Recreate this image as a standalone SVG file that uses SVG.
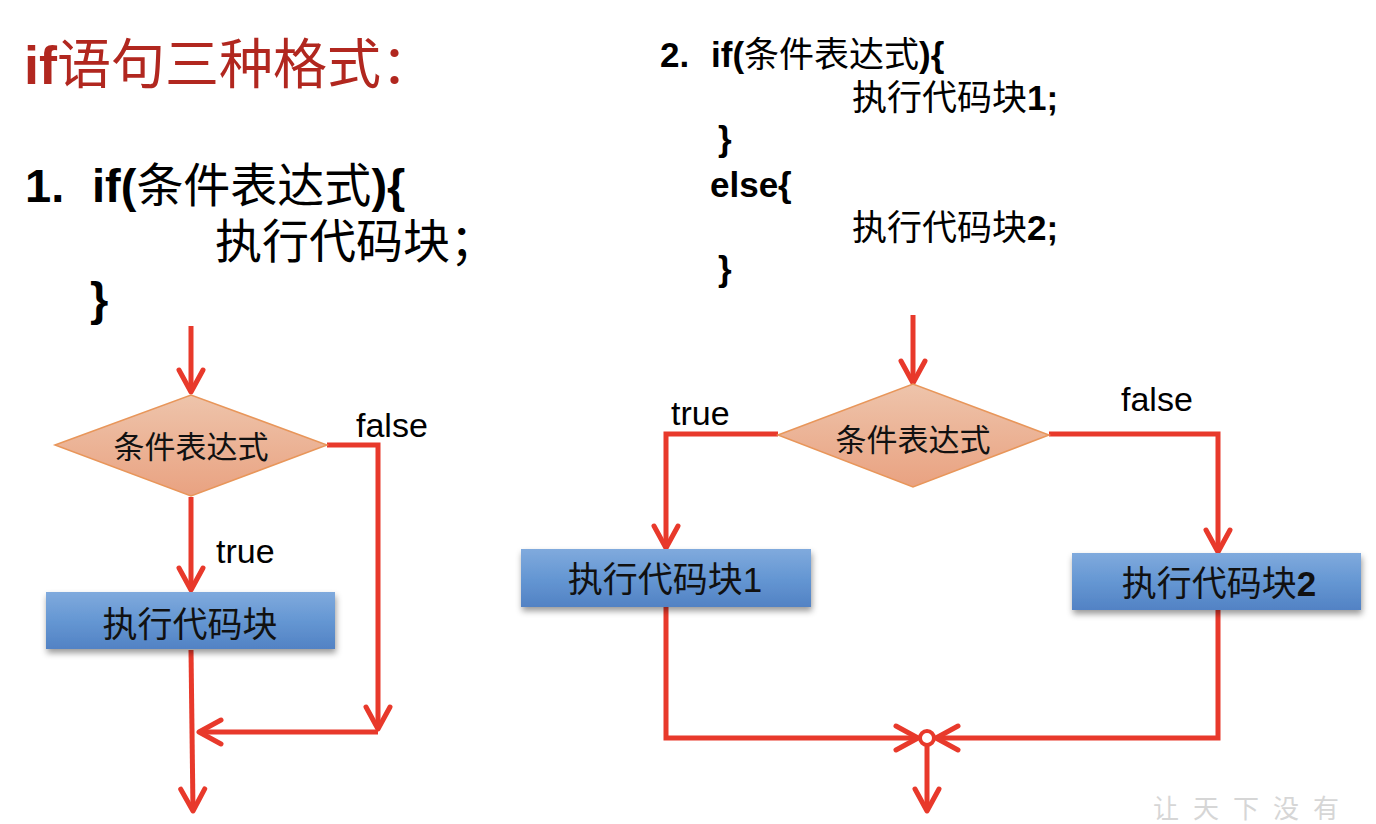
<svg xmlns="http://www.w3.org/2000/svg" width="1376" height="824" viewBox="0 0 1376 824">
  <style>
    .t { font-family: "Liberation Sans", "Noto Sans CJK SC", sans-serif; fill: #000; }
    .b { font-weight: bold; }
    .cjk { font-family: "Noto Sans CJK SC", "Liberation Sans", sans-serif; }
    .code1 { font-size: 47px; }
    .code2 { font-size: 35px; }
    .lbl { font-family: "Liberation Sans", sans-serif; font-size: 34px; fill: #000; }
    .node-text { font-family: "Noto Sans CJK SC", "Liberation Sans", sans-serif; fill: #111; }
    .conn { fill: none; stroke: #E8392B; stroke-width: 5; stroke-linejoin: miter; }
    .arrow { marker-end: url(#arr); }
    .dia { fill: url(#gDia); stroke: #E8965A; stroke-width: 1.5; }
    .box { fill: url(#gBox); filter: url(#shadow); }
  </style>
  <defs>
    <linearGradient id="gDia" x1="0" y1="0" x2="0" y2="1">
      <stop offset="0" stop-color="#EEC4AB"/>
      <stop offset="1" stop-color="#E9A281"/>
    </linearGradient>
    <linearGradient id="gBox" x1="0" y1="0" x2="0" y2="1">
      <stop offset="0" stop-color="#80AADD"/>
      <stop offset="0.5" stop-color="#6597D3"/>
      <stop offset="1" stop-color="#5282C4"/>
    </linearGradient>
    <filter id="shadow" x="-10%" y="-20%" width="125%" height="160%">
      <feDropShadow dx="1" dy="4" stdDeviation="3" flood-color="#000" flood-opacity="0.4"/>
    </filter>
    <marker id="arr" markerUnits="userSpaceOnUse" markerWidth="40" markerHeight="40" viewBox="-30 -20 40 40" refX="0" refY="0" orient="auto" overflow="visible">
      <path d="M-22,-12 L0,0 L-22,12" fill="none" stroke="#E8392B" stroke-width="5" stroke-linecap="round" stroke-linejoin="round"/>
    </marker>
  </defs>
  <rect width="1376" height="824" fill="#fff"/>

  <!-- Title and code text -->
  <g id="title">
    <text class="t" x="24" y="84" font-size="54" style="fill:#B1271F"><tspan class="b">if</tspan><tspan class="cjk">语句三种格式：</tspan></text>
  </g>
  <g id="code1" class="t code1">
    <text x="25" y="202" class="b">1.</text>
    <text x="92" y="202"><tspan class="b">if(</tspan><tspan class="cjk">条件表达式</tspan><tspan class="b">){</tspan></text>
    <text x="215" y="258" class="cjk">执行代码块；</text>
    <text x="90" y="315" class="b">}</text>
  </g>
  <g id="code2" class="t code2">
    <text x="660" y="67" class="b">2.</text>
    <text x="711" y="67"><tspan class="b">if(</tspan><tspan class="cjk">条件表达式</tspan><tspan class="b">){</tspan></text>
    <text x="852" y="110"><tspan class="cjk">执行代码块</tspan><tspan class="b">1;</tspan></text>
    <text x="718" y="151" class="b">}</text>
    <text x="710" y="197" class="b">else{</text>
    <text x="852" y="240"><tspan class="cjk">执行代码块</tspan><tspan class="b">2;</tspan></text>
    <text x="718" y="281" class="b">}</text>
  </g>

  <!-- Connectors -->
  <g id="connectors">
    <line class="conn arrow" x1="191" y1="326" x2="191" y2="392"/>
    <polyline class="conn arrow" points="327,445 378,445 378,729"/>
    <line class="conn arrow" x1="378" y1="732" x2="199" y2="732"/>
    <line class="conn arrow" x1="191" y1="497" x2="191" y2="590"/>
    <line class="conn arrow" x1="191" y1="650" x2="193" y2="811"/>

    <line class="conn arrow" x1="913" y1="315" x2="913" y2="383"/>
    <polyline class="conn arrow" points="778,434 666,434 666,548"/>
    <polyline class="conn arrow" points="1049,434 1218,434 1218,552"/>
    <polyline class="conn arrow" points="666,607 666,738 918,738"/>
    <polyline class="conn arrow" points="1218,610 1218,738 936,738"/>
    <line class="conn arrow" x1="927" y1="745" x2="927" y2="811"/>
    <circle cx="927" cy="738" r="7" fill="#fff" stroke="#E8392B" stroke-width="4"/>
  </g>

  <!-- Labels -->
  <g id="labels">
    <text class="lbl" x="356" y="437">false</text>
    <text class="lbl" x="216" y="563">true</text>
    <text class="lbl" x="671" y="425">true</text>
    <text class="lbl" x="1121" y="411">false</text>
  </g>

  <!-- Left flowchart nodes -->
  <g id="cond1">
    <polygon class="dia" points="55,445 191,395 327,445 191,496"/>
    <text class="node-text" x="191" y="458" font-size="31" text-anchor="middle">条件表达式</text>
  </g>
  <g id="block1">
    <rect class="box" x="46" y="592" width="289" height="57"/>
    <text class="node-text" x="190" y="637" font-size="35" text-anchor="middle">执行代码块</text>
  </g>

  <!-- Right flowchart nodes -->
  <g id="cond2">
    <polygon class="dia" points="778,435 913,384 1049,435 913,487"/>
    <text class="node-text" x="913" y="451" font-size="31" text-anchor="middle">条件表达式</text>
  </g>
  <g id="blockA">
    <rect class="box" x="521" y="549" width="290" height="58"/>
    <text class="node-text" x="665" y="592" font-size="35" text-anchor="middle">执行代码块<tspan font-family="Liberation Sans">1</tspan></text>
  </g>
  <g id="blockB">
    <rect class="box" x="1072" y="553" width="289" height="57"/>
    <text class="node-text" x="1219" y="596" font-size="35" text-anchor="middle">执行代码块<tspan font-family="Liberation Sans" font-weight="bold">2</tspan></text>
  </g>

  <!-- Watermark -->
  <g id="watermark">
    <text x="1153" y="818" font-family="Noto Sans CJK SC, sans-serif" font-size="26" letter-spacing="14" fill="#d6d6d6">让天下没有</text>
  </g>
</svg>
